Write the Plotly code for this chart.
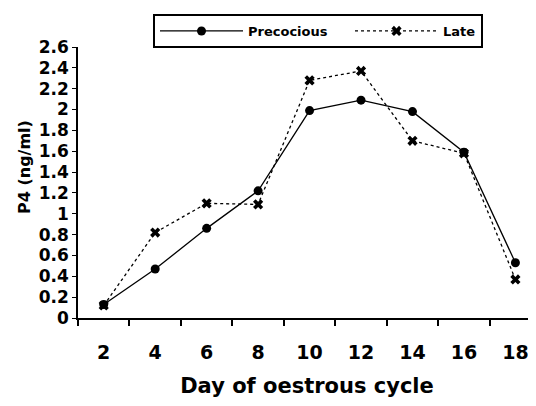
import plotly.graph_objects as go

days = ["2", "4", "6", "8", "10", "12", "14", "16", "18"]
precocious = [0.13, 0.47, 0.86, 1.22, 1.99, 2.09, 1.98, 1.59, 0.53]
late = [0.12, 0.82, 1.10, 1.09, 2.28, 2.37, 1.70, 1.58, 0.37]
y_ticks = [0, 0.2, 0.4, 0.6, 0.8, 1, 1.2, 1.4, 1.6, 1.8, 2, 2.2, 2.4, 2.6]

fig = go.Figure()
fig.add_trace(go.Scatter(
    x=days, y=precocious, name="Precocious", mode="lines+markers",
    line=dict(color="black", width=1.3),
    marker=dict(symbol="circle", size=9, color="black"),
    legendwidth=97,
))
fig.add_trace(go.Scatter(
    x=days, y=late, name="Late", mode="lines+markers",
    line=dict(color="black", width=1.3, dash="dot"),
    marker=dict(symbol="x", size=9, color="black"),
))

ff = "DejaVu Sans, Verdana, sans-serif"
L, T, PW, PH = 70, 39, 458, 271
fig.update_layout(
    width=528, height=398,
    margin=dict(l=L, r=0, t=T, b=88, autoexpand=False),
    paper_bgcolor="white", plot_bgcolor="white",
    font=dict(family=ff, color="black"),
    showlegend=True,
    legend=dict(
        orientation="h", x=(145 - L) / PW, y=1 + (T - 6) / PH, xanchor="left", yanchor="top",
        bordercolor="black", borderwidth=2,
        font=dict(size=13, family=ff, weight="bold"),
        itemwidth=83, tracegroupgap=0,
    ),
    xaxis=dict(
        type="category", range=[-0.5, 8.4], automargin=False,
        showline=True, linecolor="black", linewidth=2,
        ticks="outside", tickson="boundaries", ticklen=6, tickwidth=1.5, tickcolor="black",
        showgrid=False, zeroline=False,
        tickfont=dict(size=19, weight="bold"),
        ticklabelstandoff=16,
        title=dict(text="Day of oestrous cycle", font=dict(size=21, weight="bold"), standoff=17),
    ),
    yaxis=dict(
        range=[0, 2.6], tickvals=y_ticks, automargin=False,
        showline=True, linecolor="black", linewidth=1.5,
        ticks="outside", ticklen=4, tickwidth=1, tickcolor="black",
        showgrid=False, zeroline=False,
        tickfont=dict(size=17, weight="bold"),
    ),
    annotations=[dict(
        text="P4 (ng/ml)", textangle=-90, xref="paper", yref="paper",
        x=(16 - L) / PW, y=1 - (159 - T) / PH, xanchor="center", yanchor="middle",
        showarrow=False, font=dict(size=16, weight="bold", family=ff),
    )],
)

fig.write_html("out.html")
